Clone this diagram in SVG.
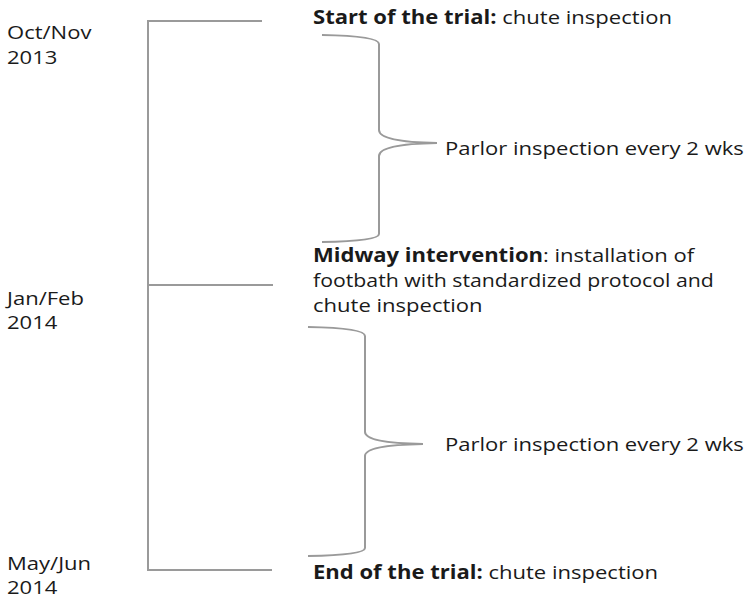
<svg xmlns="http://www.w3.org/2000/svg" width="750" height="599" viewBox="0 0 750 599">
<style>
text{font-family:"Open Sans","Noto Sans","DejaVu Sans",sans-serif;font-size:19px;fill:#1a1a1a}
.b{font-weight:bold}
.ln{fill:none;stroke:#9a9a9a;stroke-width:2;stroke-linecap:butt}
</style>
<rect width="750" height="599" fill="#fff"/>
<g id="connectors">
<path class="ln" d="M262,21 H148 V570 H272"/>
<path class="ln" d="M148,285 H273"/>
<path class="ln" d="M322,35 Q379,36 379,44 V130 Q379,142 437,143 Q379,144 379,156 V234 Q379,241 322,242"/>
<path class="ln" d="M308,327 Q365,328 365,336 V432 Q365,443 423,444 Q365,445 365,456 V548 Q365,555 308,556"/>
</g>
<g id="dates">
<text transform="translate(7,39) scale(1.16,1)">Oct/Nov</text>
<text transform="translate(7,64) scale(1.16,1)">2013</text>
<text transform="translate(7,305) scale(1.16,1)">Jan/Feb</text>
<text transform="translate(7,329) scale(1.16,1)">2014</text>
<text transform="translate(7,570) scale(1.16,1)">May/Jun</text>
<text transform="translate(7,594) scale(1.16,1)">2014</text>
</g>
<g id="start"><text transform="translate(313,24) scale(1.16,1)"><tspan class="b">Start of the trial:</tspan> chute inspection</text></g>
<g id="parlor1"><text transform="translate(445,155) scale(1.16,1)">Parlor inspection every 2 wks</text></g>
<g id="midway">
<text transform="translate(313,262) scale(1.16,1)"><tspan class="b">Midway intervention</tspan>: installation of</text>
<text transform="translate(313,287) scale(1.12,1)">footbath with standardized protocol and</text>
<text transform="translate(313,312) scale(1.16,1)">chute inspection</text>
</g>
<g id="parlor2"><text transform="translate(445,451) scale(1.16,1)">Parlor inspection every 2 wks</text></g>
<g id="end"><text transform="translate(313,579) scale(1.16,1)"><tspan class="b">End of the trial:</tspan> chute inspection</text></g>
</svg>
